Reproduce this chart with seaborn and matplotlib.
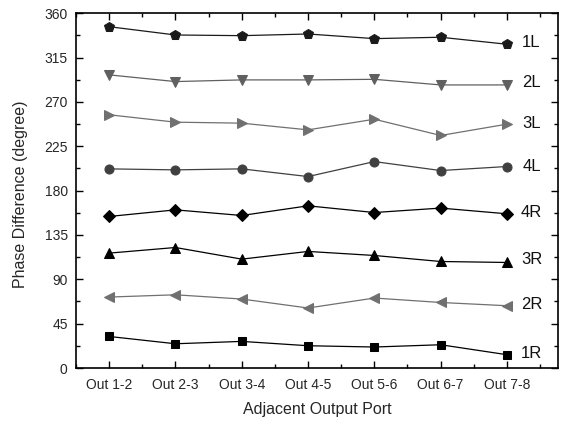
import matplotlib
matplotlib.use("Agg")
import matplotlib.pyplot as plt
import seaborn as sns
import numpy as np
import pandas as pd
from matplotlib.ticker import MultipleLocator, FixedLocator

ports = ["Out 1-2", "Out 2-3", "Out 3-4", "Out 4-5", "Out 5-6", "Out 6-7", "Out 7-8"]
s1L = [346.4, 338.0, 337.3, 339.0, 334.3, 335.7, 328.6]
s2L = [297.5, 290.7, 292.4, 292.4, 293.0, 287.3, 287.3]
s3L = [257.0, 249.5, 248.5, 241.7, 252.5, 236.0, 247.5]
s4L = [202.1, 201.1, 202.1, 194.3, 209.5, 200.4, 204.5]
s4R = [153.8, 160.5, 154.8, 164.6, 157.8, 162.3, 156.5]
s3R = [116.6, 122.3, 110.5, 118.3, 114.2, 108.1, 107.1]
s2R = [72.0, 74.3, 70.0, 60.9, 71.0, 66.5, 63.2]
s1R = [32.0, 24.6, 27.0, 22.6, 21.3, 23.6, 13.5]

series_names = ["1L", "2L", "3L", "4L", "4R", "3R", "2R", "1R"]
series_vals = [s1L, s2L, s3L, s4L, s4R, s3R, s2R, s1R]
label_y = [330, 289.6, 247.7, 204.5, 157.8, 109.8, 64.2, 15.2]

markers = {"1L": "p", "2L": "v", "3L": ">", "4L": "o", "4R": "D", "3R": "^", "2R": "<", "1R": "s"}
colors = {"1L": "#1a1a1a", "2L": "#606060", "3L": "#707070", "4L": "#404040",
          "4R": "#000000", "3R": "#000000", "2R": "#707070", "1R": "#000000"}
msizes = {"1L": 7.2, "2L": 7.5, "3L": 7.5, "4L": 6.5, "4R": 6.5, "3R": 7.5, "2R": 7.5, "1R": 5.5}

rows = []
for n, v in zip(series_names, series_vals):
    for i, val in enumerate(v):
        rows.append({"series": n, "pos": i, "port": ports[i], "value": val})
df = pd.DataFrame(rows)

sns.set_theme(style="ticks")
plt.rcParams["font.family"] = ["Liberation Sans", "DejaVu Sans"]

fig = plt.figure(figsize=(5.64, 4.23), dpi=100)
ax = fig.add_axes([76/564, 1 - 368/423, (558-76)/564, (368-13.3)/423])

for n in series_names:
    d = df[df.series == n]
    sns.lineplot(data=d, x="pos", y="value", ax=ax, color=colors[n], marker=markers[n],
                 markersize=msizes[n], markeredgecolor=colors[n], linewidth=0.9,
                 legend=False)

for n, y in zip(series_names, label_y):
    ax.text(6.37, y, n, fontsize=12, ha="center", va="center", color="#111111")

ax.set_xlim(-0.5, 6.77)
ax.set_ylim(0, 360)
ax.set_xticks(range(len(ports)))
ax.set_xticklabels(ports)
ax.xaxis.set_minor_locator(FixedLocator(np.arange(-0.5, 7.0, 1.0)))
ax.yaxis.set_major_locator(MultipleLocator(45))
ax.yaxis.set_minor_locator(MultipleLocator(22.5))
ax.tick_params(which="both", direction="in", top=True, right=True, color="black",
               labelsize=10, width=1)
ax.tick_params(axis="x", which="major", length=5, pad=7)
ax.tick_params(axis="y", which="major", length=5, pad=6)
ax.tick_params(which="minor", length=3)
for s in ax.spines.values():
    s.set_color("black")
    s.set_linewidth(1.2)

ax.set_xlabel("Adjacent Output Port", fontsize=11.5)
ax.set_ylabel("Phase Difference (degree)", fontsize=11.5)
ax.xaxis.set_label_coords(0.5, -0.097)
ax.yaxis.set_label_coords(-0.10, 0.49)

fig.savefig("out.png", dpi=100)
